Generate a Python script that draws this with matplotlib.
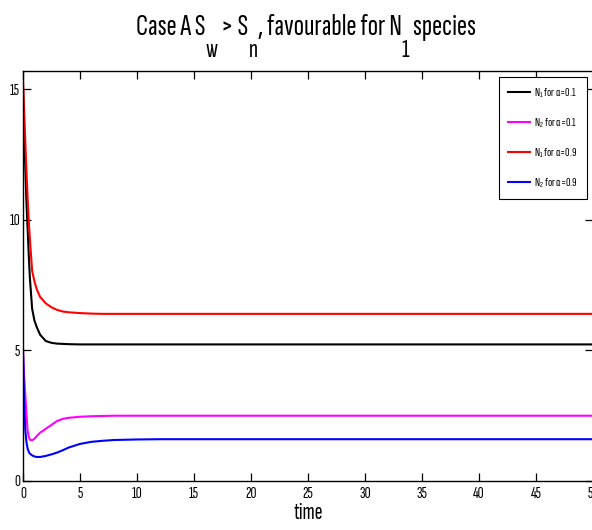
import matplotlib
matplotlib.use("Agg")
import matplotlib.pyplot as plt
import numpy as np

FONT = ['Sofia Sans Extra Condensed', 'DejaVu Sans']
plt.rcParams['font.family'] = FONT
plt.rcParams['mathtext.fontset'] = 'custom'
plt.rcParams['mathtext.rm'] = 'Sofia Sans Extra Condensed'
plt.rcParams['mathtext.it'] = 'Sofia Sans Extra Condensed'
plt.rcParams['mathtext.fallback'] = 'stixsans'

t = [0, 0.1, 0.2, 0.3, 0.4, 0.5, 0.6, 0.8, 1.0, 1.2, 1.5, 2.0, 2.5, 3, 3.5, 4, 5, 6, 7, 8,
     10, 12, 15, 20, 25, 30, 35, 40, 45, 50]
n1_a01 = [15.0, 13.4, 12.0, 10.7, 9.7, 8.7, 7.8, 6.6, 6.15, 5.9, 5.6, 5.36, 5.29, 5.26, 5.25, 5.24, 5.23, 5.23, 5.23, 5.23,
          5.23, 5.23, 5.23, 5.23, 5.23, 5.23, 5.23, 5.23, 5.23, 5.23]
n2_a01 = [5.0, 4.0, 3.3, 2.6, 1.95, 1.7, 1.58, 1.56, 1.62, 1.72, 1.85, 2.0, 2.15, 2.3, 2.38, 2.42, 2.46, 2.48, 2.49, 2.5,
          2.5, 2.5, 2.5, 2.5, 2.5, 2.5, 2.5, 2.5, 2.5, 2.5]
n1_a09 = [15.35, 14.2, 13.0, 11.9, 10.9, 10.0, 9.3, 8.05, 7.65, 7.35, 7.05, 6.8, 6.65, 6.55, 6.49, 6.46, 6.43, 6.41, 6.4, 6.4,
          6.4, 6.4, 6.4, 6.4, 6.4, 6.4, 6.4, 6.4, 6.4, 6.4]
n2_a09 = [5.0, 3.0, 1.95, 1.5, 1.25, 1.12, 1.05, 0.98, 0.94, 0.92, 0.92, 0.96, 1.02, 1.09, 1.18, 1.28, 1.42, 1.5, 1.54, 1.57,
          1.59, 1.6, 1.6, 1.6, 1.6, 1.6, 1.6, 1.6, 1.6, 1.6]

labels = [r'N$_1$ for α=0.1', r'N$_2$ for α=0.1', r'N$_1$ for α=0.9', r'N$_2$ for α=0.9']
colors = ['black', '#ff00ff', '#ff0000', '#0000ff']
series = [n1_a01, n2_a01, n1_a09, n2_a09]

W, H = 592, 530
fig = plt.figure(figsize=(W/100, H/100), dpi=100)
ax = fig.add_axes([23/W, 1-481/H, 570/W, (481-71)/H])
for y, c, lab in zip(series, colors, labels):
    ax.plot(t, y, color=c, lw=1.5, label=lab)

ax.set_xlim(0, 50)
ax.set_ylim(0, 15.7)
ax.set_xticks(np.arange(0, 51, 5))
ax.set_yticks([0, 5, 10, 15])
ax.tick_params(direction='in', top=True, right=True, length=6, labelsize=12, width=0.9, pad=4)
ax.tick_params(axis='y', pad=2)
for s in ax.spines.values():
    s.set_linewidth(1.0)
ax.set_xlabel('time', fontsize=17, labelpad=1)

leg = ax.legend(loc='upper right', fontsize=9, frameon=True, fancybox=False,
                edgecolor='black', framealpha=1, handlelength=1.8, handletextpad=0.3,
                borderaxespad=0.5, labelspacing=1.3, borderpad=0.7)
leg.get_frame().set_linewidth(0.8)

# Title built piece by piece (MATLAB-style low subscripts)
pieces = [("Case A S", 0), ("w", 1), (" > S", 0), ("n", 1), (", favourable for N", 0), ("1", 1), (" species", 0)]
main_size, sub_size = 22, 19
base_y = 1 - 35/H
sub_y = 1 - 57/H
renderer = fig.canvas.get_renderer()
texts = []
x = 0.0
for s, is_sub in pieces:
    tx = fig.text(x, sub_y if is_sub else base_y, s, fontsize=sub_size if is_sub else main_size,
                  ha='left', va='baseline')
    w = tx.get_window_extent(renderer=renderer).width / W
    texts.append((tx, x))
    x += w
center = 306 / W
shift = center - x / 2
for tx, x0 in texts:
    tx.set_x(x0 + shift)

fig.savefig('out.png', dpi=100)
